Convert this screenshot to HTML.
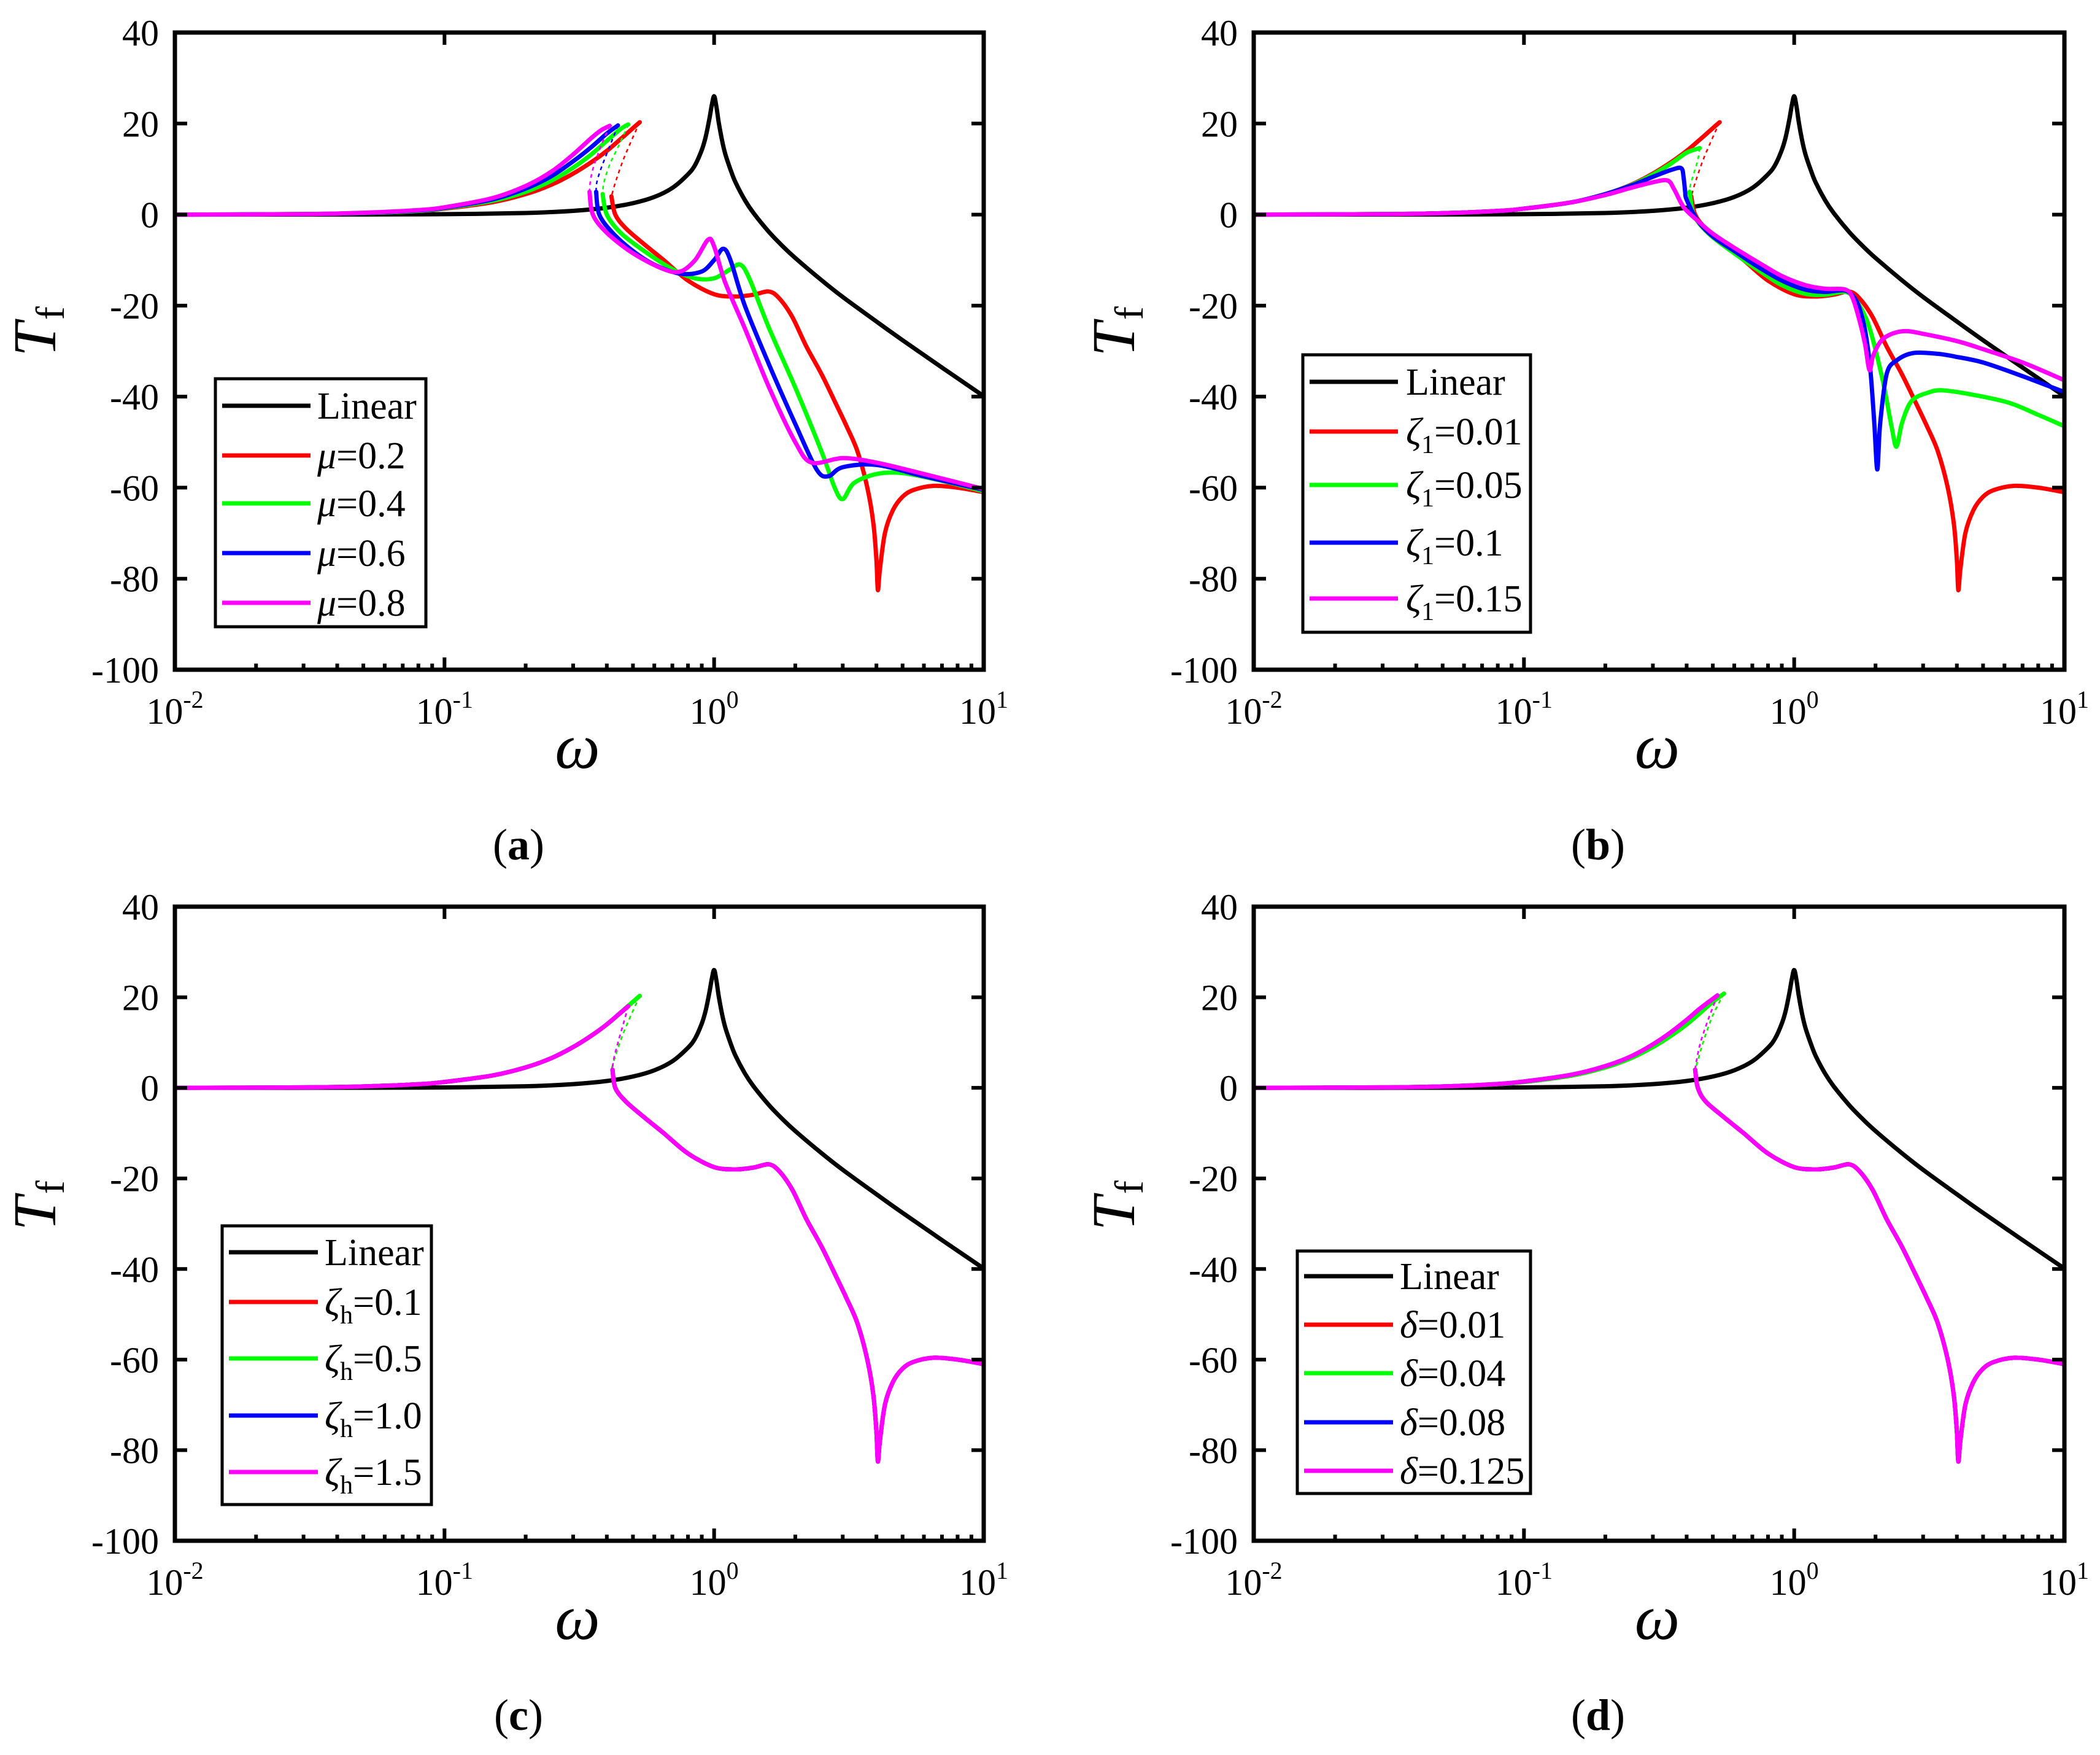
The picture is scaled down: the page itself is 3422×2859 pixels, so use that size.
<!DOCTYPE html>
<html><head><meta charset="utf-8">
<style>
html,body{margin:0;padding:0;background:#fff;}
svg{display:block;font-family:"Liberation Serif","DejaVu Serif",serif;}
</style></head>
<body>
<svg id="fig" width="3422" height="2859" viewBox="0 0 3422 2859"></svg>
<script>
// ---------- data (omega, T_f) ----------
const linW = [0.01,0.05,0.1,0.2,0.3,0.4,0.5,0.6,0.7,0.8,0.85,0.9,0.93,0.96,0.98,1.0,1.02,1.04,1.07,1.1,1.15,1.2,1.3,1.4,1.6,1.8,2,2.5,3,4,5,7,10];
const linT = [0,0.02,0.09,0.35,0.82,1.51,2.5,3.87,5.86,8.86,10.9,14.2,17.0,21.0,24.0,26.0,23.7,20.3,16.3,13.3,9.9,7.1,3.2,0.35,-3.86,-7.0,-9.54,-14.4,-18.1,-23.5,-27.6,-33.6,-39.9];

const redUpW = [0.01,0.03,0.05,0.08,0.1,0.15,0.2,0.25,0.3,0.35,0.4,0.45,0.5,0.53];
const redUpT = [0,0.1,0.3,0.8,1.3,2.7,4.5,6.6,9,11.5,14,16.6,19,20.3];
const redDotW = [0.53,0.5,0.46,0.43,0.416];
const redDotT = [20.3,17,12,7,4];
const redLoW = [0.416,0.43,0.47,0.55,0.65,0.8,1.0,1.2,1.4,1.6,1.75,1.95,2.2,2.5,2.8,3.1,3.4,3.7,3.9,4.0,4.05,4.12,4.3,4.6,5.0,5.5,6.5,8,10];
const redLoT = [4,0,-3,-6.5,-10,-14.5,-17.5,-18,-17.6,-16.9,-18.5,-22.5,-29,-35,-41,-46.5,-52,-60,-68,-76,-82.5,-78,-70,-65,-62,-60.5,-59.6,-60,-61];

const aGreenUpW = [0.01,0.03,0.05,0.08,0.1,0.15,0.2,0.25,0.3,0.35,0.4,0.45,0.48];
const aGreenUpT = [0,0.1,0.3,0.8,1.4,3,5,7.5,10.3,13.2,16.2,18.8,19.8];
const aGreenDotW = [0.48,0.45,0.41,0.39,0.386];
const aGreenDotT = [19.8,16,11,7,4.5];
const aGreenLoW = [0.386,0.4,0.45,0.55,0.7,0.85,1.0,1.15,1.25,1.35,1.6,2.0,2.5,2.8,3.0,3.3,4,5,7,10];
const aGreenLoT = [4.5,0,-4,-8,-12,-14,-14,-12,-11,-14,-25,-38,-52,-60,-62.5,-59,-57,-56.8,-58.5,-60.8];
const aBlueUpW = [0.01,0.03,0.05,0.08,0.1,0.15,0.2,0.25,0.3,0.35,0.4,0.44];
const aBlueUpT = [0,0.1,0.35,0.9,1.5,3.3,5.7,8.5,11.7,14.8,17.8,19.6];
const aBlueDotW = [0.44,0.41,0.38,0.367,0.365];
const aBlueDotT = [19.6,15,10,7,5];
const aBlueLoW = [0.365,0.375,0.42,0.5,0.6,0.75,0.9,1.0,1.08,1.15,1.3,1.6,2.0,2.4,2.65,3,4,6,10];
const aBlueLoT = [5,0,-4,-8,-11,-13,-12.5,-10,-7.5,-10,-20,-33,-46,-56,-57.5,-55.5,-55,-57.5,-60.5];
const aPinkUpW = [0.01,0.03,0.05,0.08,0.1,0.15,0.2,0.25,0.3,0.35,0.38,0.41];
const aPinkUpT = [0,0.1,0.4,1,1.6,3.6,6.3,9.5,13.2,16.8,18.5,19.5];
const aPinkDotW = [0.41,0.38,0.355,0.347,0.345];
const aPinkDotT = [19.5,15,10,7,5];
const aPinkLoW = [0.345,0.355,0.4,0.5,0.65,0.75,0.85,0.95,1.0,1.1,1.3,1.6,2.0,2.3,3,4,6,10];
const aPinkLoT = [5,0,-4,-8.5,-12,-12.5,-10,-5.5,-7,-15,-25,-38,-50,-54.5,-53.5,-54.5,-57,-60.3];

const bGreenUpW = [0.01,0.03,0.05,0.08,0.1,0.15,0.2,0.25,0.3,0.35,0.4,0.447];
const bGreenUpT = [0,0.1,0.3,0.8,1.3,2.7,4.5,6.5,8.8,11.2,13.6,14.6];
const bGreenDotW = [0.447,0.44,0.425,0.413,0.41];
const bGreenDotT = [14.6,12,9,6.5,5];
const bGreenLoW = [0.41,0.42,0.44,0.5,0.6,0.75,0.9,1.1,1.3,1.55,1.7,1.85,1.96,2.1,2.2,2.3,2.39,2.5,2.65,2.8,3.1,3.5,4.5,6.2,8,10];
const bGreenLoT = [5,1,-1.6,-5,-8.5,-12.5,-15.5,-17.4,-17.6,-17,-19,-23,-27.7,-35,-40.8,-47,-51,-46,-42,-40.3,-39.2,-38.6,-39.5,-41.3,-44,-46.5];
const bBlueW = [0.01,0.03,0.05,0.08,0.1,0.15,0.2,0.25,0.3,0.35,0.382,0.39,0.395,0.4,0.44,0.5,0.6,0.75,0.9,1.1,1.3,1.55,1.7,1.79,1.86,1.92,1.98,2.03,2.08,2.2,2.4,2.77,3.4,3.94,5,7,10];
const bBlueT = [0,0.1,0.3,0.8,1.3,2.7,4.5,6.4,8.3,9.8,10.2,8,5,3.3,-1.4,-4.8,-8,-11.8,-14.5,-16.5,-17,-16.7,-19,-22.9,-28,-35,-46,-56,-46,-35,-32,-30.4,-30.6,-31.2,-32.5,-35.5,-39];
const bPinkW = [0.01,0.03,0.05,0.08,0.1,0.15,0.2,0.25,0.3,0.34,0.36,0.39,0.44,0.5,0.6,0.75,0.9,1.1,1.3,1.55,1.65,1.75,1.83,1.9,1.96,2.1,2.3,2.59,3,4,4.96,7,10];
const bPinkT = [0,0.1,0.3,0.8,1.3,2.7,4.3,5.9,7.1,7.5,5.5,1.6,-1.4,-4.2,-7.3,-10.8,-13.5,-15.5,-16.3,-16.5,-18.5,-23.6,-28.5,-34.2,-31,-27.7,-26.2,-25.6,-26.2,-27.8,-29.5,-32.5,-36.4];

const cUpW = [0.01,0.03,0.05,0.08,0.1,0.15,0.2,0.25,0.3,0.35,0.4,0.45,0.48];
const cPinkUpT = [0,0.1,0.3,0.8,1.3,2.7,4.5,6.6,9,11.5,14,16.6,18];
const cDotW = [0.48,0.46,0.44,0.425,0.42];
const cDotT = [18,14,10,6.5,4.5];
const cLoW = [0.42,0.43,0.47,0.55,0.65,0.8,1.0,1.2,1.4,1.6,1.75,1.95,2.2,2.5,2.8,3.1,3.4,3.7,3.9,4.0,4.05,4.12,4.3,4.6,5.0,5.5,6.5,8,10];

const dRedUpW = [0.01,0.03,0.05,0.08,0.1,0.15,0.2,0.25,0.3,0.35,0.4,0.45,0.5,0.55];
const dRedUpT = [0,0.1,0.3,0.8,1.3,2.7,4.5,6.6,9,11.5,14,16.6,19,20.8];
const dRedDotW = [0.55,0.5,0.46,0.44,0.43];
const dRedDotT = [20.8,16,10,6,4];
const dPinkUpW = [0.01,0.03,0.05,0.08,0.1,0.15,0.2,0.25,0.3,0.35,0.4,0.45,0.52];
const dPinkUpT = [0,0.1,0.3,0.85,1.4,2.9,4.8,7.0,9.6,12.3,15,17.6,20.4];
const dPinkDotW = [0.52,0.48,0.45,0.435,0.43];
const dPinkDotT = [20.4,15,10,6,4];
const dLoW = [0.43,0.44,0.47,0.55,0.65,0.8,1.0,1.2,1.4,1.6,1.75,1.95,2.2,2.5,2.8,3.1,3.4,3.7,3.9,4.0,4.05,4.12,4.3,4.6,5.0,5.5,6.5,8,10];
const dLoT = [4,0,-3,-6.5,-10,-14.5,-17.5,-18,-17.6,-16.9,-18.5,-22.5,-29,-35,-41,-46.5,-52,-60,-68,-76,-82.5,-78,-70,-65,-62,-60.5,-59.6,-60,-61];

const yTicks = [40,20,0,-20,-40,-60,-80,-100];
const xExps = [-2,-1,0,1];

// ---------- rendering ----------
const NS = 'http://www.w3.org/2000/svg';
const svg = document.getElementById('fig');
function mk(tag, attrs, parent){
  const e = document.createElementNS(NS, tag);
  for (const k in attrs) e.setAttribute(k, attrs[k]);
  parent.appendChild(e);
  return e;
}
function smoothPath(P){
  if (P.length < 3) return 'M' + P.map(p => p[0].toFixed(1) + ',' + p[1].toFixed(1)).join(' L');
  let d = 'M' + P[0][0].toFixed(1) + ',' + P[0][1].toFixed(1);
  const k = 0.16;
  for (let i = 0; i < P.length - 1; i++){
    const p0 = P[Math.max(0, i - 1)], p1 = P[i], p2 = P[i + 1], p3 = P[Math.min(P.length - 1, i + 2)];
    const c1 = [p1[0] + (p2[0] - p0[0]) * k, p1[1] + (p2[1] - p0[1]) * k];
    const c2 = [p2[0] - (p3[0] - p1[0]) * k, p2[1] - (p3[1] - p1[1]) * k];
    d += ' C' + c1[0].toFixed(1) + ',' + c1[1].toFixed(1) + ' ' + c2[0].toFixed(1) + ',' + c2[1].toFixed(1) + ' ' + p2[0].toFixed(1) + ',' + p2[1].toFixed(1);
  }
  return d;
}
const RED='#ff0000', GREEN='#00ff00', BLUE='#0000ff', PINK='#ff00ff';
function seg(ws, ts, style){ return {w:ws, t:ts, style:style}; }

const panels = [
 {id:'a', x0:285, x1:1603, y0:53, y1:1091, label:'a', lx:845, ly:1400,
  series:[
   {name:'linear', color:'#000', segs:[seg(linW,linT,'solid')]},
   {name:'mu-0.2', color:RED, segs:[seg(redUpW,redUpT,'solid'),seg(redDotW,redDotT,'dot'),seg(redLoW,redLoT,'solid')]},
   {name:'mu-0.4', color:GREEN, segs:[seg(aGreenUpW,aGreenUpT,'solid'),seg(aGreenDotW,aGreenDotT,'dot'),seg(aGreenLoW,aGreenLoT,'solid')]},
   {name:'mu-0.6', color:BLUE, segs:[seg(aBlueUpW,aBlueUpT,'solid'),seg(aBlueDotW,aBlueDotT,'dot'),seg(aBlueLoW,aBlueLoT,'solid')]},
   {name:'mu-0.8', color:PINK, segs:[seg(aPinkUpW,aPinkUpT,'solid'),seg(aPinkDotW,aPinkDotT,'dot'),seg(aPinkLoW,aPinkLoT,'solid')]}
  ],
  legend:{bx0:351,bx1:694,by0:617,by1:1021,lx0:362,lx1:506,tx:517,rows:[661,742,820,901,982],
   entries:[['Linear'],['mu','=0.2'],['mu','=0.4'],['mu','=0.6'],['mu','=0.8']]}},
 {id:'b', x0:2043, x1:3364, y0:53, y1:1091, label:'b', lx:2604, ly:1400,
  series:[
   {name:'linear', color:'#000', segs:[seg(linW,linT,'solid')]},
   {name:'zeta1-0.01', color:RED, segs:[seg(redUpW,redUpT,'solid'),seg(redDotW,redDotT,'dot'),seg(redLoW,redLoT,'solid')]},
   {name:'zeta1-0.05', color:GREEN, segs:[seg(bGreenUpW,bGreenUpT,'solid'),seg(bGreenDotW,bGreenDotT,'dot'),seg(bGreenLoW,bGreenLoT,'solid')]},
   {name:'zeta1-0.1', color:BLUE, segs:[seg(bBlueW,bBlueT,'solid')]},
   {name:'zeta1-0.15', color:PINK, segs:[seg(bPinkW,bPinkT,'solid')]}
  ],
  legend:{bx0:2123,bx1:2494,by0:578,by1:1030,lx0:2134,lx1:2278,tx:2291,rows:[622,703,790,884,975],
   entries:[['Linear'],['zeta','1','=0.01'],['zeta','1','=0.05'],['zeta','1','=0.1'],['zeta','1','=0.15']]}},
 {id:'c', x0:285, x1:1603, y0:1477, y1:2510, label:'c', lx:845, ly:2818,
  series:[
   {name:'linear', color:'#000', segs:[seg(linW,linT,'solid')]},
   {name:'zetah-0.1', color:RED, segs:[seg(redUpW,redUpT,'solid'),seg(redDotW,redDotT,'dot'),seg(cLoW,redLoT,'solid')]},
   {name:'zetah-0.5', color:GREEN, segs:[seg(redUpW,redUpT,'solid'),seg(redDotW,redDotT,'dot'),seg(cLoW,redLoT,'solid')]},
   {name:'zetah-1.0', color:BLUE, segs:[seg(cUpW,cPinkUpT,'solid'),seg(cDotW,cDotT,'dot'),seg(cLoW,redLoT,'solid')]},
   {name:'zetah-1.5', color:PINK, segs:[seg(cUpW,cPinkUpT,'solid'),seg(cDotW,cDotT,'dot'),seg(cLoW,redLoT,'solid')]}
  ],
  legend:{bx0:362,bx1:703,by0:1997,by1:2451,lx0:373,lx1:518,tx:529,rows:[2040,2121,2213,2306,2398],
   entries:[['Linear'],['zeta','h','=0.1'],['zeta','h','=0.5'],['zeta','h','=1.0'],['zeta','h','=1.5']]}},
 {id:'d', x0:2043, x1:3364, y0:1477, y1:2510, label:'d', lx:2604, ly:2818,
  series:[
   {name:'linear', color:'#000', segs:[seg(linW,linT,'solid')]},
   {name:'delta-0.01', color:RED, segs:[seg(dRedUpW,dRedUpT,'solid'),seg(dRedDotW,dRedDotT,'dot'),seg(dLoW,dLoT,'solid')]},
   {name:'delta-0.04', color:GREEN, segs:[seg(dRedUpW,dRedUpT,'solid'),seg(dRedDotW,dRedDotT,'dot'),seg(dLoW,dLoT,'solid')]},
   {name:'delta-0.08', color:BLUE, segs:[seg(dPinkUpW,dPinkUpT,'solid'),seg(dPinkDotW,dPinkDotT,'dot'),seg(dLoW,dLoT,'solid')]},
   {name:'delta-0.125', color:PINK, segs:[seg(dPinkUpW,dPinkUpT,'solid'),seg(dPinkDotW,dPinkDotT,'dot'),seg(dLoW,dLoT,'solid')]}
  ],
  legend:{bx0:2114,bx1:2494,by0:2038,by1:2433,lx0:2125,lx1:2270,tx:2281,rows:[2079,2158,2237,2317,2396],
   entries:[['Linear'],['delta','=0.01'],['delta','=0.04'],['delta','=0.08'],['delta','=0.125']]}}
];

const GREEK = {mu:'\u03bc', zeta:'\u03b6', delta:'\u03b4'};

panels.forEach(p => {
  const g = mk('g', {}, svg);
  
  
  const W = p.x1 - p.x0, H = p.y1 - p.y0;
  const xS = w => p.x0 + (Math.log10(w) + 2) / 3 * W;
  const yS = t => p.y0 + (40 - t) / 140 * H;

  const cp = mk('clipPath', {id:'clip-' + p.id}, g);
  mk('rect', {x:p.x0, y:p.y0, width:W, height:H}, cp);

  const sg = mk('g', {'clip-path':'url(#clip-' + p.id + ')'}, g);
  
  
  p.series.forEach(s => {
    s.segs.forEach((sd, i) => {
      const P = sd.w.map((w, k) => [xS(w), yS(sd.t[k])]);
      const dot = sd.style === 'dot';
      const pl = mk('path', {d:smoothPath(P), fill:'none', stroke:s.color,
        'stroke-width': dot ? 2.5 : 7, 'stroke-linejoin':'round', 'stroke-linecap': dot ? 'butt' : 'round',
        'stroke-dasharray': dot ? '6 6' : 'none'}, sg);
      
      
    });
  });

  const tg = mk('g', {stroke:'#000', 'stroke-width':6}, g);
  
  
  yTicks.forEach(t => {
    const y = yS(t);
    mk('line', {x1:p.x0, y1:y, x2:p.x0 + 20, y2:y}, tg);
    mk('line', {x1:p.x1, y1:y, x2:p.x1 - 20, y2:y}, tg);
  });
  xExps.forEach(e => {
    const x = xS(Math.pow(10, e));
    mk('line', {x1:x, y1:p.y1, x2:x, y2:p.y1 - 20}, tg);
    mk('line', {x1:x, y1:p.y0, x2:x, y2:p.y0 + 20}, tg);
    if (e < 1) for (let m = 2; m <= 9; m++) {
      const xm = xS(m * Math.pow(10, e));
      mk('line', {x1:xm, y1:p.y1, x2:xm, y2:p.y1 - 10}, tg);
    }
  });

  const fr = mk('rect', {x:p.x0, y:p.y0, width:W, height:H, fill:'none', stroke:'#000', 'stroke-width':7}, g);
  
  

  yTicks.forEach(t => {
    const tx = mk('text', {x:p.x0 - 26, y:yS(t) + 21, 'font-size':60, 'text-anchor':'end', fill:'#000'}, g);
    tx.textContent = String(t);
    
    
  });
  xExps.forEach(e => {
    const tx = mk('text', {x:xS(Math.pow(10, e)), y:p.y1 + 88, 'font-size':60, 'text-anchor':'middle', fill:'#000'}, g);
    
    
    const a = mk('tspan', {}, tx); a.textContent = '10';
    const b = mk('tspan', {'font-size':40, dy:-26}, tx); b.textContent = String(e);
  });

  const xt = mk('text', {x:(p.x0 + p.x1) / 2 - 3, y:p.y1 + 160, 'font-size':104, 'font-style':'italic', 'text-anchor':'middle'}, g);
  xt.textContent = '\u03c9';
  
  
  const cy = p.y0 + 487;
  const yt = mk('text', {x:0, y:0, 'font-size':100, 'text-anchor':'middle', transform:'translate(' + (p.x0 - 195) + ',' + cy + ') rotate(-90)'}, g);
  
  
  const t1 = mk('tspan', {'font-style':'italic'}, yt); t1.textContent = 'T';
  const t2 = mk('tspan', {'font-size':66, dy:14, dx:4}, yt); t2.textContent = 'f';

  const pl = mk('text', {x:p.lx, y:p.ly, 'font-size':72, 'text-anchor':'middle'}, g);
  
  
  const q1 = mk('tspan', {}, pl); q1.textContent = '(';
  const q2 = mk('tspan', {'font-weight':'bold'}, pl); q2.textContent = p.label;
  const q3 = mk('tspan', {}, pl); q3.textContent = ')';

  const L = p.legend;
  const lg = mk('g', {}, g);
  
  
  mk('rect', {x:L.bx0, y:L.by0, width:L.bx1 - L.bx0, height:L.by1 - L.by0, fill:'#fff', stroke:'#000', 'stroke-width':5}, lg);
  L.entries.forEach((en, i) => {
    const y = L.rows[i];
    const eg = mk('g', {}, lg);
    
    
    mk('line', {x1:L.lx0, y1:y, x2:L.lx1, y2:y, stroke:p.series[i].color, 'stroke-width':7}, eg);
    const tx = mk('text', {x:L.tx, y:y + 21, 'font-size':62, fill:'#000'}, eg);
    if (en.length === 1) { tx.textContent = en[0]; }
    else {
      const s1 = mk('tspan', {'font-style':'italic'}, tx); s1.textContent = GREEK[en[0]];
      if (en.length === 3) {
        const s2 = mk('tspan', {'font-size':42, dy:14}, tx); s2.textContent = en[1];
        const s3 = mk('tspan', {dy:-14}, tx); s3.textContent = en[2];
      } else {
        const s3 = mk('tspan', {}, tx); s3.textContent = en[1];
      }
    }
  });
});
</script>
</body></html>
